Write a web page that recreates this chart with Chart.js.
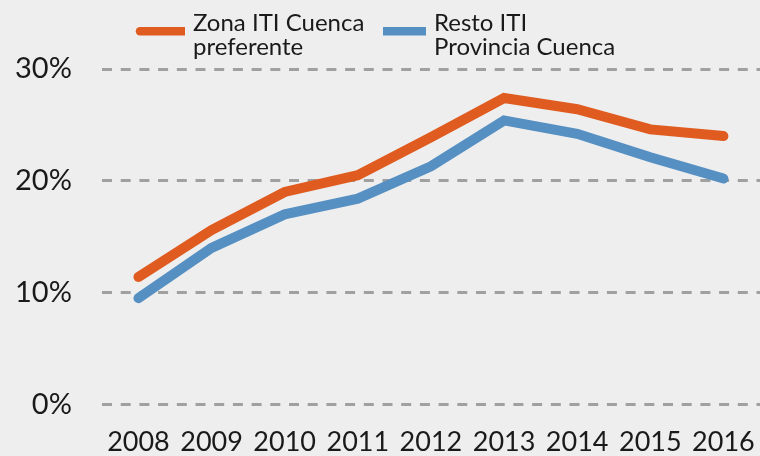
<!DOCTYPE html>
<html lang="es">
<head>
<meta charset="utf-8">
<title>ITI Cuenca</title>
<script src="https://cdn.jsdelivr.net/npm/chart.js@4/dist/chart.umd.min.js"></script>
<style>
  html, body { margin: 0; padding: 0; background: #eeeeee; }
  #wrap { width: 760px; height: 456px; }
</style>
</head>
<body>
<div id="wrap"><canvas id="chart" width="760" height="456"></canvas></div>
<script>
// ── Datos ──────────────────────────────────────────────────────
const years = ['2008', '2009', '2010', '2011', '2012', '2013', '2014', '2015', '2016'];
const zonaPreferente = [11.4, 15.6, 19.0, 20.5, 23.9, 27.4, 26.4, 24.6, 24.0];
const restoProvincia = [9.5, 14.0, 17.0, 18.4, 21.3, 25.4, 24.2, 22.1, 20.2];
const seriesNames = [['Zona ITI Cuenca', 'preferente'], ['Resto ITI', 'Provincia Cuenca']];
const yTicks = [0, 10, 20, 30];

const ORANGE = '#e05b1f';
const BLUE = '#5690c3';
const TEXT = '#1a1a1a';
const FONT = 'Lato, "Noto Sans", sans-serif';

// ── Leyenda en dos líneas ──────────────────────────────────────
const legendPlugin = {
  id: 'twoLineLegend',
  afterDraw(chart) {
    const ctx = chart.ctx;
    const items = [
      { x: 140, w: 45, color: ORANGE, text: seriesNames[0], tx: 193 },
      { x: 383, w: 43, color: BLUE, text: seriesNames[1], tx: 434 },
    ];
    ctx.save();
    ctx.font = '24px ' + FONT;
    ctx.textBaseline = 'alphabetic';
    items.forEach((it, i) => {
      ctx.fillStyle = it.color;
      ctx.fillRect(it.x, 27, it.w, 8.5);
      if (i === 0) {
        ctx.beginPath();
        ctx.arc(it.x, 31.25, 4.25, Math.PI / 2, Math.PI * 1.5);
        ctx.fill();
      }
      ctx.fillStyle = TEXT;
      it.text.forEach((line, j) => ctx.fillText(line, it.tx, 31 + j * 24));
    });
    ctx.restore();
  },
};

// ── Gráfico ────────────────────────────────────────────────────
const ctx = document.getElementById('chart').getContext('2d');
new Chart(ctx, {
  type: 'line',
  data: {
    labels: years,
    datasets: [
      {
        label: seriesNames[1].join(' '),
        data: restoProvincia,
        borderColor: BLUE,
        backgroundColor: BLUE,
        borderWidth: 10,
        borderCapStyle: 'round',
        borderJoinStyle: 'miter',
        pointRadius: 0,
        tension: 0,
        order: 2,
      },
      {
        label: seriesNames[0].join(' '),
        data: zonaPreferente,
        borderColor: ORANGE,
        backgroundColor: ORANGE,
        borderWidth: 10,
        borderCapStyle: 'round',
        borderJoinStyle: 'miter',
        pointRadius: 0,
        tension: 0,
        order: 1,
      },
    ],
  },
  options: {
    responsive: false,
    devicePixelRatio: 1,
    animation: false,
    clip: false,
    layout: { padding: { top: 69, left: 0, right: 0, bottom: 0 } },
    plugins: {
      legend: { display: false },
      tooltip: { enabled: false },
    },
    scales: {
      x: {
        offset: true,
        // marcas ocultas: sólo separan las etiquetas del área
        grid: { display: false, drawTicks: true, tickLength: 24 },
        border: { display: false },
        ticks: {
          color: TEXT,
          font: { family: FONT, size: 27, lineHeight: 0.8 },
          padding: 3,
          autoSkip: false,
          maxRotation: 0,
        },
      },
      y: {
        min: yTicks[0],
        max: yTicks[yTicks.length - 1],
        afterBuildTicks(scale) {
          scale.ticks = yTicks.map(v => ({ value: v }));
        },
        grid: { color: '#a0a0a0', lineWidth: 3, drawTicks: true, tickLength: 15, tickColor: 'rgba(0,0,0,0)' },
        border: { display: false, dash: [10, 8.7] },
        ticks: {
          color: TEXT,
          font: { family: FONT, size: 29, lineHeight: 1 },
          padding: 15,
          callback: v => v + '%',
        },
      },
    },
  },
  plugins: [legendPlugin],
});
</script>
</body>
</html>
